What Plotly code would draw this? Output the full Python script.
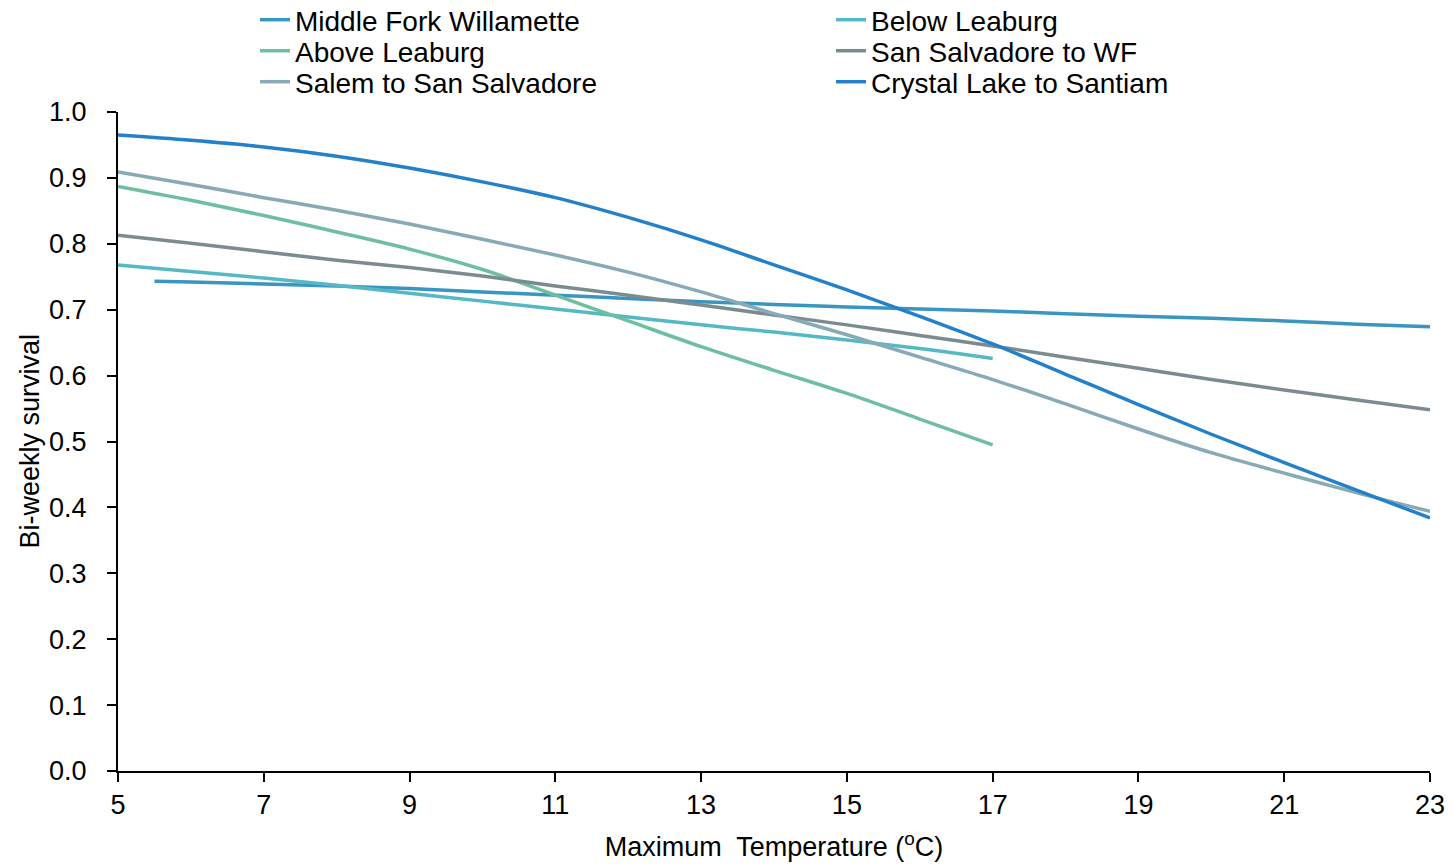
import plotly.graph_objects as go

temps = list(range(5, 24))
temps_short = list(range(5, 18))
temps_mfw = [5.5] + list(range(6, 24))

middle_fork = [0.743, 0.742, 0.739, 0.736, 0.732, 0.727, 0.722, 0.717, 0.712, 0.708,
               0.704, 0.701, 0.698, 0.694, 0.690, 0.687, 0.683, 0.678, 0.674]
below_leaburg = [0.768, 0.758, 0.748, 0.737, 0.725, 0.713, 0.701, 0.689, 0.677, 0.666,
                 0.654, 0.641, 0.626]
above_leaburg = [0.887, 0.866, 0.843, 0.818, 0.792, 0.761, 0.722, 0.683, 0.644, 0.608,
                 0.573, 0.534, 0.495]
san_salvadore = [0.813, 0.801, 0.788, 0.775, 0.764, 0.751, 0.736, 0.722, 0.707, 0.692,
                 0.677, 0.661, 0.645, 0.628, 0.611, 0.594, 0.578, 0.563, 0.548]
salem = [0.909, 0.890, 0.870, 0.851, 0.830, 0.807, 0.783, 0.757, 0.727, 0.694,
         0.662, 0.628, 0.594, 0.557, 0.519, 0.483, 0.452, 0.422, 0.394]
crystal = [0.965, 0.957, 0.947, 0.933, 0.915, 0.894, 0.870, 0.840, 0.806, 0.768,
           0.730, 0.690, 0.648, 0.602, 0.556, 0.511, 0.468, 0.426, 0.384]

series = [
    ("Middle Fork Willamette", temps_mfw, middle_fork, "#3A96C0", "legend", 255, 20),
    ("Below Leaburg", temps_short, below_leaburg, "#55B8C5", "legend2", 831, 20),
    ("Above Leaburg", temps_short, above_leaburg, "#6EBFA0", "legend3", 255, 51),
    ("San Salvadore to WF", temps, san_salvadore, "#7A8C90", "legend4", 831, 51),
    ("Salem to San Salvadore", temps, salem, "#87AAB6", "legend5", 255, 82),
    ("Crystal Lake to Santiam", temps, crystal, "#2580CA", "legend6", 831, 82),
]

FONT = "Liberation Sans, Arial, sans-serif"
L, R, T, B = 118, 23, 112, 96
W, H = 1453, 867
pw = W - L - R

fig = go.Figure()
layout_legends = {}
for name, xs, ys, color, lg, px, py in series:
    fig.add_trace(go.Scatter(x=xs, y=ys, mode="lines", name=name,
                             line=dict(color=color, width=3.5, shape="spline"),
                             legend=lg))
    layout_legends[lg] = dict(
        xref="container", yref="container",
        x=px / W, y=1 - py / H,
        xanchor="left", yanchor="middle",
        font=dict(family=FONT, size=28, color="black"),
        bgcolor="rgba(0,0,0,0)", borderwidth=0,
    )

fig.update_layout(
    width=W, height=H,
    margin=dict(l=L, r=R, t=T, b=B, autoexpand=False),
    plot_bgcolor="white", paper_bgcolor="white",
    font=dict(family=FONT, size=27, color="black"),
    showlegend=True,
    annotations=[dict(
        text="Bi-weekly survival", textangle=-90, showarrow=False,
        xref="paper", yref="paper", x=(29 - L) / pw, y=0.5,
        xanchor="center", yanchor="middle",
        font=dict(family=FONT, size=27, color="black"),
    )],
    **layout_legends,
)
fig.update_xaxes(
    range=[5, 23], dtick=2, tick0=5, showgrid=False, zeroline=False,
    showline=True, linecolor="black", linewidth=2,
    ticks="outside", ticklen=9, tickwidth=2, tickcolor="black",
    tickfont=dict(family=FONT, size=27),
    title=dict(text="Maximum\u00a0 Temperature (<sup>o</sup>C)",
               font=dict(family=FONT, size=27), standoff=18),
)
fig.update_yaxes(
    range=[0, 1], dtick=0.1, tick0=0, tickformat=".1f", showgrid=False, zeroline=False,
    showline=True, linecolor="black", linewidth=2,
    ticks="outside", ticklen=9, tickwidth=2, tickcolor="black",
    ticksuffix="\u00a0\u00a0",
    tickfont=dict(family=FONT, size=27),
)

fig.write_html("out.html")
